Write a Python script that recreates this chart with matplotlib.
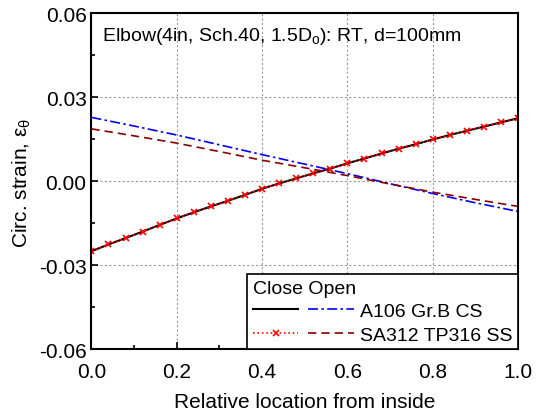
import numpy as np
import matplotlib.pyplot as plt
from matplotlib.legend_handler import HandlerTuple
from matplotlib.ticker import MultipleLocator

plt.rcParams['font.family'] = ['Liberation Sans', 'DejaVu Sans']
plt.rcParams['mathtext.fontset'] = 'custom'
plt.rcParams['mathtext.rm'] = 'Liberation Sans'
plt.rcParams['mathtext.it'] = 'Liberation Sans:italic'

# Close condition (both materials overlap), 0.04 steps
x_close = np.linspace(0, 1, 26)
a106_close = [-0.0249, -0.0225, -0.0202, -0.0179, -0.0155, -0.0132, -0.0110, -0.0089,
              -0.0069, -0.0048, -0.0026, -0.0007, 0.0011, 0.0029, 0.0046, 0.0065,
              0.0082, 0.0100, 0.0117, 0.0133, 0.0150, 0.0166, 0.0181, 0.0196,
              0.0211, 0.0226]
sa312_close = a106_close

# Open condition, 0.1 steps
x_open = np.linspace(0, 1, 11)
a106_open = [0.0229, 0.0198, 0.0166, 0.0131, 0.0096, 0.0062, 0.0028, -0.0008, -0.0043, -0.0076, -0.0107]
sa312_open = [0.0188, 0.0163, 0.0137, 0.0107, 0.0076, 0.0049, 0.0021, -0.0009, -0.0038, -0.0064, -0.0089]

fig = plt.figure(figsize=(5.41, 4.14), dpi=100)
ax = fig.add_axes([0.169, 0.1534, 0.7885, 0.8116])

l1, = ax.plot(x_close, a106_close, color='black', lw=1.5)
l2, = ax.plot(x_open, a106_open, color='blue', lw=1.2, linestyle=(0, (6, 2, 1.5, 2)))
l3, = ax.plot(x_close, sa312_close, color='red', lw=1.2, linestyle=':', marker='x',
              markersize=5, markeredgewidth=1.2)
l4, = ax.plot(x_open, sa312_open, color='#8b0000', lw=1.2, linestyle=(0, (5, 3)))

ax.set_xlim(0, 1)
ax.set_ylim(-0.06, 0.06)
ax.xaxis.set_major_locator(MultipleLocator(0.2))
ax.xaxis.set_minor_locator(MultipleLocator(0.1))
ax.yaxis.set_major_locator(MultipleLocator(0.03))
ax.yaxis.set_minor_locator(MultipleLocator(0.015))
ax.yaxis.set_major_formatter(plt.FuncFormatter(lambda v, p: f'{v:.2f}'))
ax.xaxis.set_major_formatter(plt.FuncFormatter(lambda v, p: f'{v:.1f}'))
ax.tick_params(which='both', direction='in', labelsize=15, width=1.2)
ax.tick_params(which='major', length=5)
ax.tick_params(which='minor', length=3)
ax.tick_params(axis='x', which='major', pad=9)
ax.grid(True, which='major', color='#999999', linestyle=(0, (2, 2)), lw=0.8)
for s in ax.spines.values():
    s.set_linewidth(1.5)

ax.set_xlabel('Relative location from inside', fontsize=15, labelpad=8)
ax.set_ylabel(r'Circ. strain, ε$_{\mathrm{θ}}$', fontsize=15)

ax.text(0.025, 0.965, r'Elbow(4in, Sch.40, 1.5D$_{\mathrm{o}}$): RT, d=100mm', transform=ax.transAxes,
        fontsize=14, va='top', ha='left')

leg = ax.legend([(l1, l2), (l3, l4)], ['A106 Gr.B CS', 'SA312 TP316 SS'],
                handler_map={tuple: HandlerTuple(ndivide=None, pad=0.5)},
                loc='lower right', borderaxespad=0, fontsize=14, title='Close Open',
                title_fontsize=14, alignment='left', fancybox=False, edgecolor='black',
                framealpha=1, handlelength=5.2, handletextpad=0.3, borderpad=0.3,
                labelspacing=0.3)
leg.get_frame().set_linewidth(1.2)

fig.savefig('out.png', dpi=100)
